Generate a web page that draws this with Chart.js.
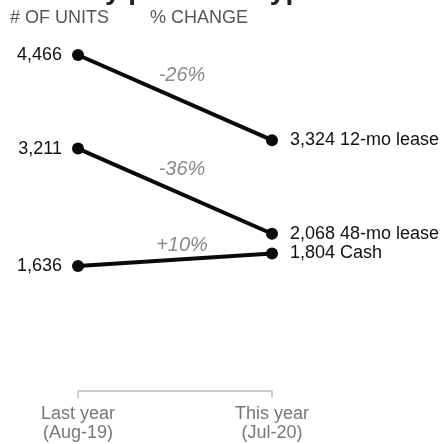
<!DOCTYPE html>
<html>
<head>
<meta charset="utf-8">
<script src="https://cdn.jsdelivr.net/npm/chart.js@4.4.1/dist/chart.umd.min.js"></script>
<style>
    html, body { margin: 0; padding: 0; background: #fff; }
    #wrap { width: 442px; height: 444px; position: relative; }
</style>
</head>
<body>
<div id="wrap"><canvas id="units-chart"></canvas></div>
<script>
// periods on the x-axis
const periods = ['Last year', 'This year'];
const periodDates = ['(Aug-19)', '(Jul-20)'];

// units per purchase type, [last year, this year]
const typeNames = ['12-mo lease', '48-mo lease', 'Cash'];
const lease12 = [4466, 3324];
const lease48 = [3211, 2068];
const cash = [1636, 1804];

const FONT = '"Liberation Sans", Arial, Helvetica, sans-serif';

function fmt(n) {
    return n.toLocaleString('en-US');
}

function pctChange(values) {
    let p = Math.round((values[1] - values[0]) / values[0] * 100);
    return (p > 0 ? '+' : '') + p + '%';
}

// labels, change percentages, headers and the period bracket
const annotations = {
    id: 'annotations',
    afterDatasetsDraw(chart) {
        const ctx = chart.ctx;
        const x = chart.scales.x;
        const y = chart.scales.y;
        const x0 = x.getPixelForValue(0);
        const x1 = x.getPixelForValue(1);
        ctx.save();

        // title, runs off the top edge
        ctx.fillStyle = '#222';
        ctx.font = 'bold 28px ' + FONT;
        ctx.textAlign = 'left';
        ctx.textBaseline = 'alphabetic';
        ctx.fillText('Units by purchase type', 10, -1);

        // column headers
        ctx.fillStyle = '#555';
        ctx.font = '18px ' + FONT;
        ctx.textBaseline = 'middle';
        ctx.fillText('# OF UNITS', 10, 18);
        ctx.fillText('% CHANGE', 150, 18);

        chart.data.datasets.forEach((ds, i) => {
            const ya = y.getPixelForValue(ds.data[0]);
            const yb = y.getPixelForValue(ds.data[1]);

            ctx.fillStyle = '#111';
            ctx.font = '18px ' + FONT;
            ctx.textBaseline = 'middle';
            ctx.textAlign = 'right';
            ctx.fillText(fmt(ds.data[0]), x0 - 16, ya);
            ctx.textAlign = 'left';
            ctx.fillText(fmt(ds.data[1]) + ' ' + typeNames[i], x1 + 18, yb);

            // change label sits above the middle of the line
            const slope = Math.abs(yb - ya) / (x1 - x0);
            ctx.fillStyle = '#8a8a8a';
            ctx.font = 'italic 20px ' + FONT;
            ctx.textAlign = 'center';
            ctx.fillText(pctChange(ds.data), (x0 + x1) / 2 + 7, (ya + yb) / 2 - (13 + 21 * slope));
        });

        // bracket under the two periods
        const by = 391;
        ctx.strokeStyle = '#bdbdbd';
        ctx.lineWidth = 1.5;
        ctx.beginPath();
        ctx.moveTo(x0, by + 7);
        ctx.lineTo(x0, by);
        ctx.lineTo(x1, by);
        ctx.lineTo(x1, by + 7);
        ctx.stroke();

        ctx.fillStyle = '#777';
        ctx.font = '18px ' + FONT;
        ctx.textAlign = 'center';
        periods.forEach((p, i) => {
            const px = x.getPixelForValue(i);
            ctx.fillText(p, px, 414);
            ctx.fillText(periodDates[i], px, 433);
        });

        ctx.restore();
    }
};

function series(data) {
    return {
        data: data,
        borderColor: '#0a0a0a',
        borderWidth: 4,
        pointRadius: 6,
        pointBorderWidth: 0,
        pointBackgroundColor: '#0a0a0a',
        tension: 0,
        clip: false,
    };
}

new Chart(document.querySelector('#units-chart'), {
    type: 'line',
    data: {
        labels: periods,
        datasets: [series(lease12), series(lease48), series(cash)],
    },
    options: {
        responsive: true,
        maintainAspectRatio: false,
        animation: false,
        layout: {padding: {left: 78, right: 170, top: 40, bottom: 144}},
        plugins: {legend: {display: false}, tooltip: {enabled: false}},
        scales: {
            x: {display: false, offset: false},
            y: {display: false, min: 1180, max: 4667},
        },
    },
    plugins: [annotations],
});
</script>
</body>
</html>
